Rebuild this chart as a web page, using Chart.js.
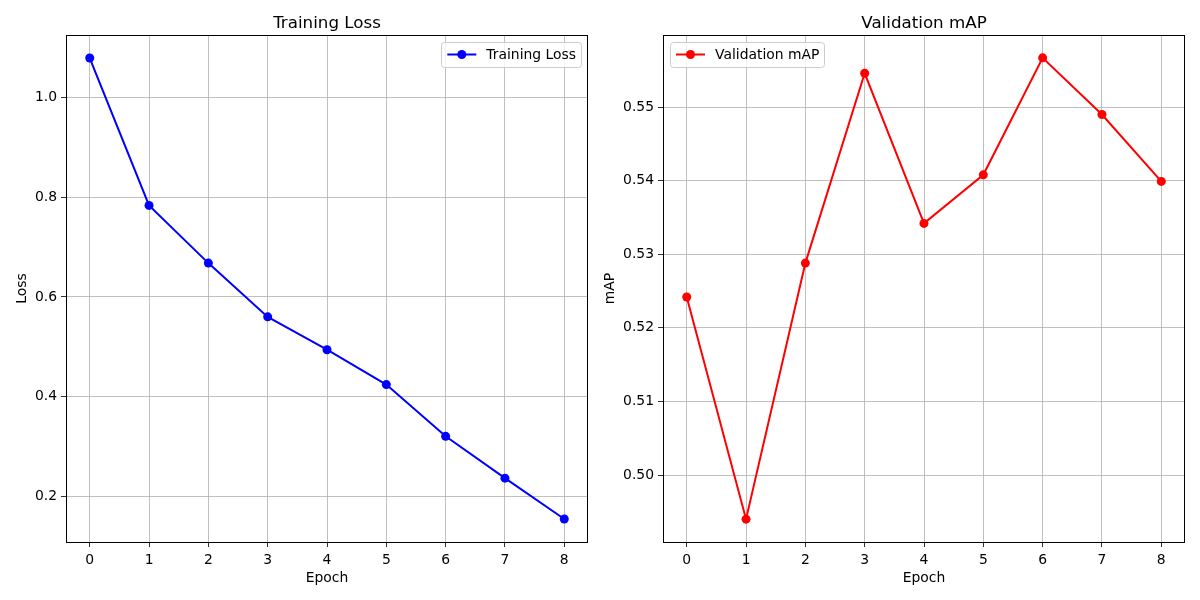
<!DOCTYPE html>
<html>
<head>
<meta charset="utf-8">
<script src="https://cdn.jsdelivr.net/npm/chart.js@4.4.1/dist/chart.umd.min.js"></script>
<style>
  html, body { margin: 0; padding: 0; background: #ffffff; }
  #wrap { position: relative; width: 1200px; height: 600px; }
  .panel { position: absolute; top: 0; width: 600px; height: 600px; }
</style>
</head>
<body>
<div id="wrap">
  <div class="panel" style="left:0"><canvas id="lossChart" width="600" height="600"></canvas></div>
  <div class="panel" style="left:600px"><canvas id="mapChart" width="600" height="600"></canvas></div>
</div>
<script>
// Data
const epochs = [0, 1, 2, 3, 4, 5, 6, 7, 8];
const trainingLoss = [1.080, 0.784, 0.668, 0.560, 0.494, 0.424, 0.320, 0.236, 0.154];
const validationMap = [0.5242, 0.4940, 0.5288, 0.5546, 0.5342, 0.5408, 0.5567, 0.5490, 0.5399];

// Tick labels
const epochTicks = [0, 1, 2, 3, 4, 5, 6, 7, 8];
const lossTicks = [0.2, 0.4, 0.6, 0.8, 1.0];
const mapTicks = [0.50, 0.51, 0.52, 0.53, 0.54, 0.55];

Chart.defaults.font.family = '"DejaVu Sans", sans-serif';
Chart.defaults.color = '#000000';

// Draw all four spines on top of the plot
const frame = {
  id: 'frame',
  afterDatasetsDraw(chart) {
    const { ctx, chartArea: a } = chart;
    ctx.save();
    ctx.strokeStyle = '#000000';
    ctx.lineWidth = 1;
    ctx.strokeRect(Math.round(a.left) + 0.5, Math.round(a.top) + 0.5,
      Math.round(a.right - a.left) - 1, Math.round(a.bottom - a.top));
    ctx.restore();
  }
};

// Axes title centred over the plot area (like matplotlib)
const axesTitle = {
  id: 'axesTitle',
  afterDraw(chart, args, opts) {
    const { ctx, chartArea: a } = chart;
    ctx.save();
    ctx.font = '16.7px "DejaVu Sans"';
    ctx.fillStyle = '#000000';
    ctx.textAlign = 'center';
    ctx.textBaseline = 'alphabetic';
    ctx.fillText(opts.text, (a.left + a.right) / 2, a.top - 7);
    ctx.restore();
  }
};

// Matplotlib-style legend inside the axes
const insideLegend = {
  id: 'insideLegend',
  afterDraw(chart, args, opts) {
    const { ctx, chartArea } = chart;
    const ds = chart.data.datasets[0];
    ctx.save();
    ctx.font = '13.9px "DejaVu Sans"';
    const textW = ctx.measureText(ds.label).width;
    const w = 44 + textW + 6;
    const h = 25;
    const x = opts.align === 'left' ? chartArea.left + 7 : chartArea.right - 7 - w;
    const y = chartArea.top + 7;
    ctx.beginPath();
    ctx.roundRect(Math.round(x) + 0.5, Math.round(y) + 0.5, Math.round(w), h, 3);
    ctx.fillStyle = 'rgba(255,255,255,0.8)';
    ctx.fill();
    ctx.strokeStyle = '#cccccc';
    ctx.lineWidth = 1;
    ctx.stroke();
    const cy = y + h / 2;
    ctx.strokeStyle = ds.borderColor;
    ctx.lineWidth = 2;
    ctx.beginPath();
    ctx.moveTo(x + 6, cy);
    ctx.lineTo(x + 35, cy);
    ctx.stroke();
    ctx.fillStyle = ds.borderColor;
    ctx.beginPath();
    ctx.arc(x + 20.5, cy, 4.5, 0, Math.PI * 2);
    ctx.fill();
    ctx.fillStyle = '#000000';
    ctx.textBaseline = 'middle';
    ctx.fillText(ds.label, x + 45, cy + 1);
    ctx.restore();
  }
};

function makeChart(id, opts) {
  const ctx = document.getElementById(id).getContext('2d');
  return new Chart(ctx, {
    type: 'line',
    data: {
      datasets: [{
        label: opts.label,
        data: epochs.map((e, i) => ({ x: e, y: opts.values[i] })),
        borderColor: opts.color,
        backgroundColor: opts.color,
        pointBackgroundColor: opts.color,
        pointBorderWidth: 0,
        pointRadius: 4.5,
        borderWidth: 2,
        tension: 0,
        fill: false
      }]
    },
    plugins: [frame, axesTitle, insideLegend],
    options: {
      responsive: false,
      animation: false,
      layout: { padding: { left: 0, right: opts.padRight, top: 35, bottom: 0 } },
      plugins: {
        legend: { display: false },
        tooltip: { enabled: false },
        title: { display: false },
        axesTitle: { text: opts.title },
        insideLegend: { align: opts.legendAlign }
      },
      scales: {
        x: {
          type: 'linear',
          min: -0.4,
          max: 8.4,
          afterBuildTicks: axis => { axis.ticks = epochTicks.map(v => ({ value: v })); },
          afterFit: axis => { axis.height = 58; },
          ticks: { font: { size: 13.9 }, color: '#000000', padding: 5, maxRotation: 0 },
          grid: { color: '#b0b0b0', lineWidth: 0.8, tickColor: '#000000', tickLength: 5 },
          border: { display: false },
          title: {
            display: true,
            text: 'Epoch',
            font: { size: 13.9 },
            color: '#000000',
            padding: { top: 0, bottom: 13 }
          }
        },
        y: {
          min: opts.yMin,
          max: opts.yMax,
          afterBuildTicks: axis => { axis.ticks = opts.ticks.map(v => ({ value: v })); },
          afterFit: axis => { axis.width = opts.yWidth; },
          ticks: {
            font: { size: 13.9 },
            color: '#000000',
            padding: 4,
            callback: v => v.toFixed(opts.decimals)
          },
          grid: { color: '#b0b0b0', lineWidth: 0.8, tickColor: '#000000', tickLength: 5 },
          border: { display: false },
          title: {
            display: true,
            text: opts.yLabel,
            font: { size: 13.9 },
            color: '#000000',
            padding: { top: opts.yTitlePad, bottom: 0 }
          }
        }
      }
    }
  });
}

makeChart('lossChart', {
  label: 'Training Loss',
  title: 'Training Loss',
  yLabel: 'Loss',
  values: trainingLoss,
  color: '#0000ff',
  ticks: lossTicks,
  decimals: 1,
  yMin: 0.1077,
  yMax: 1.1263,
  yWidth: 66,
  yTitlePad: 14,
  padRight: 12,
  legendAlign: 'right'
});

makeChart('mapChart', {
  label: 'Validation mAP',
  title: 'Validation mAP',
  yLabel: 'mAP',
  values: validationMap,
  color: '#ff0000',
  ticks: mapTicks,
  decimals: 2,
  yMin: 0.4909,
  yMax: 0.5598,
  yWidth: 63,
  yTitlePad: 2,
  padRight: 15,
  legendAlign: 'left'
});
</script>
</body>
</html>
